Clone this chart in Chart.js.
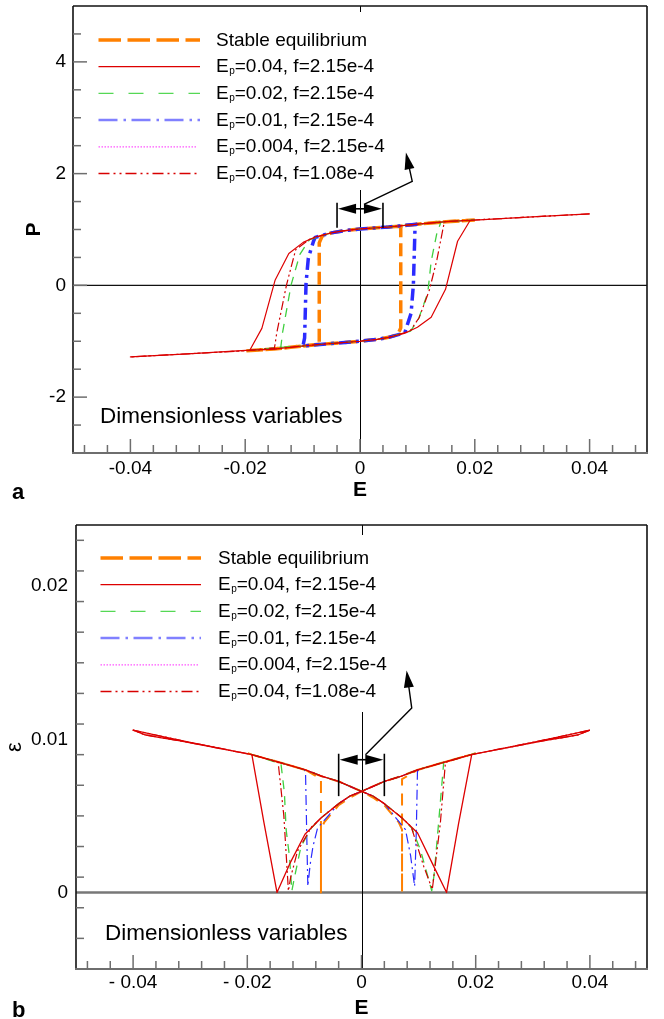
<!DOCTYPE html>
<html>
<head>
<meta charset="utf-8">
<script src="https://cdn.jsdelivr.net/npm/chart.js@4.4.0/dist/chart.umd.min.js"></script>
<style>
  html, body { margin: 0; padding: 0; background: #fff; }
  canvas { display: block; }
</style>
</head>
<body>
<canvas id="chartP" width="664" height="512"></canvas>
<canvas id="chartS" width="664" height="507"></canvas>
<script>
// ---- panel a : polarization P against field E (one closed cycle per run) ----
const eqE_a = [0.02, 0.015, 0.01, 0.007, 0.005, 0, -0.003, -0.005, -0.0066, -0.0071, -0.0071, -0.01, -0.015, -0.02, -0.015, -0.01, -0.0071, -0.005, 0, 0.003, 0.005, 0.0066, 0.0071, 0.0071, 0.01, 0.015, 0.02];
const eqP   = [1.17, 1.14, 1.095, 1.06, 1.045, 1.01, 0.975, 0.94, 0.88, 0.76, -1.06, -1.085, -1.14, -1.17, -1.14, -1.085, -1.055, -1.04, -1.0, -0.965, -0.93, -0.88, -0.76, 1.06, 1.095, 1.14, 1.17];

const r1E_a = [0.04, 0.03, 0.02, 0.015, 0.01, 0.005, 0, -0.003, -0.005, -0.0077, -0.0099, -0.0124, -0.0148, -0.0171, -0.0192, -0.03, -0.04, -0.03, -0.0192, -0.015, -0.01, -0.005, 0, 0.003, 0.005, 0.0077, 0.0100, 0.0124, 0.0149, 0.0170, 0.0192, 0.03, 0.04];
const r1P   = [1.28, 1.225, 1.17, 1.14, 1.095, 1.045, 1.01, 0.975, 0.94, 0.87, 0.77, 0.57, 0.09, -0.77, -1.16, -1.225, -1.28, -1.225, -1.16, -1.14, -1.085, -1.04, -1.0, -0.965, -0.93, -0.86, -0.75, -0.57, -0.07, 0.79, 1.165, 1.225, 1.28];

const g2E_a = [0.02, 0.015, 0.01, 0.005, 0, -0.003, -0.005, -0.0088, -0.0105, -0.0120, -0.0135, -0.0138, -0.02, -0.0138, -0.01, -0.005, 0, 0.003, 0.005, 0.0088, 0.0102, 0.0118, 0.0124, 0.0134, 0.0141, 0.02];
const g2P   = [1.17, 1.14, 1.095, 1.045, 1.01, 0.975, 0.94, 0.82, 0.55, 0.01, -0.85, -1.11, -1.17, -1.11, -1.085, -1.04, -1.0, -0.965, -0.93, -0.82, -0.60, -0.14, 0.43, 0.94, 1.13, 1.17];

const b1E_a = [0.01, 0.005, 0, -0.003, -0.005, -0.0078, -0.0081, -0.0090, -0.0094, -0.00965, -0.0099, -0.01, -0.005, 0, 0.003, 0.005, 0.0078, 0.0082, 0.0089, 0.0093, 0.0096, 0.01];
const b1P   = [1.095, 1.045, 1.01, 0.975, 0.94, 0.86, 0.79, 0.49, 0.04, -0.94, -1.07, -1.085, -1.04, -1.0, -0.965, -0.93, -0.85, -0.72, -0.50, 0.01, 1.09, 1.095];

const m4E_a = [0.004, 0, -0.004, 0, 0.004];
const m4P   = [1.04, 1.01, 0.955, 1.01, 1.04];

const r2E_a = [0.04, 0.03, 0.02, 0.015, 0.01, 0.005, 0, -0.003, -0.005, -0.0087, -0.0112, -0.0128, -0.0145, -0.0149, -0.02, -0.03, -0.04, -0.03, -0.02, -0.015, -0.01, -0.005, 0, 0.003, 0.005, 0.0087, 0.0103, 0.0121, 0.0134, 0.0147, 0.02, 0.03, 0.04];
const r2P   = [1.28, 1.225, 1.17, 1.14, 1.095, 1.045, 1.01, 0.975, 0.94, 0.83, 0.64, 0.01, -0.85, -1.12, -1.17, -1.225, -1.28, -1.225, -1.17, -1.14, -1.085, -1.04, -1.0, -0.965, -0.93, -0.82, -0.58, -0.08, 0.46, 1.14, 1.17, 1.225, 1.28];

// ---- panel b : strain eps against field E, same runs ----
const eqE_b = [0.02, 0.0192, 0.0144, 0.0098, 0.007, 0.004, 0, -0.002, -0.004, -0.0065, -0.0071, -0.0071, -0.0071, -0.0098, -0.0144, -0.0192, -0.02, -0.0192, -0.0144, -0.0098, -0.0071, -0.004, 0, 0.002, 0.004, 0.0065, 0.0071, 0.0071, 0.0071, 0.0098, 0.0144, 0.0192, 0.02];
const eqS   = [0.0091, 0.0090, 0.0085, 0.0080, 0.0076, 0.00725, 0.0066, 0.0062, 0.0057, 0.0046, 0.0041, 0.0, 0.0074, 0.0080, 0.0085, 0.0090, 0.0091, 0.0090, 0.0085, 0.0080, 0.0076, 0.00725, 0.0066, 0.0062, 0.0057, 0.0046, 0.0041, 0.0, 0.0074, 0.0080, 0.0085, 0.0090, 0.0091];

const r1E_b = [0.04, 0.038, 0.035, 0.032, 0.0192, 0.0144, 0.0098, 0.007, 0.004, 0, -0.002, -0.004, -0.007, -0.0099, -0.0124, -0.0148, -0.0171, -0.0192, -0.03, -0.035, -0.04, -0.038, -0.035, -0.032, -0.0192, -0.0144, -0.0098, -0.007, -0.004, 0, 0.002, 0.004, 0.007, 0.0098, 0.0124, 0.0149, 0.0170, 0.0193, 0.03, 0.035, 0.04];
const r1S   = [0.0106, 0.0103, 0.0101, 0.00992, 0.0090, 0.0085, 0.0080, 0.0076, 0.00725, 0.0066, 0.0063, 0.0058, 0.0049, 0.0038, 0.0020, 0.0, 0.0046, 0.0090, 0.0098, 0.0102, 0.0106, 0.0103, 0.0101, 0.00992, 0.0090, 0.0085, 0.0080, 0.0076, 0.00725, 0.0066, 0.0063, 0.0058, 0.0049, 0.0039, 0.0019, 0.0, 0.0045, 0.0090, 0.0098, 0.0102, 0.0106];

const g2E_b = [0.02, 0.0192, 0.0144, 0.0098, 0.007, 0.004, 0, -0.002, -0.004, -0.007, -0.0088, -0.0106, -0.0117, -0.0122, -0.0126, -0.0132, -0.0135, -0.0141, -0.0192, -0.02, -0.0192, -0.0144, -0.0098, -0.007, -0.004, 0, 0.002, 0.004, 0.007, 0.0088, 0.0103, 0.0118, 0.0123, 0.0127, 0.0134, 0.0144, 0.0192, 0.02];
const g2S   = [0.0091, 0.0090, 0.0085, 0.0080, 0.0076, 0.00725, 0.0066, 0.0063, 0.0058, 0.0049, 0.0042, 0.0030, 0.00105, 0.0001, 0.0023, 0.0041, 0.0065, 0.0084, 0.0090, 0.0091, 0.0090, 0.0085, 0.0080, 0.0076, 0.00725, 0.0066, 0.0063, 0.0058, 0.0049, 0.0042, 0.0028, 0.0008, 0.0001, 0.0011, 0.0041, 0.0085, 0.0090, 0.0091];

const b1E_b = [0.01, 0.0098, 0.007, 0.004, 0, -0.002, -0.004, -0.0077, -0.0085, -0.0090, -0.0094, -0.0096, -0.0098, -0.01, -0.0098, -0.007, -0.004, 0, 0.002, 0.004, 0.0077, 0.0086, 0.0093, 0.0096, 0.0098, 0.01];
const b1S   = [0.0080, 0.0080, 0.0076, 0.00725, 0.0066, 0.0063, 0.0058, 0.0042, 0.0030, 0.0018, 0.0004, 0.0040, 0.0078, 0.0080, 0.0080, 0.0076, 0.00725, 0.0066, 0.0063, 0.0058, 0.0041, 0.0024, 0.0004, 0.0040, 0.0079, 0.0080];

const m4E_b = [0.004, 0, -0.002, -0.004, -0.002, 0, 0.004];
const m4S   = [0.00725, 0.0066, 0.0063, 0.0058, 0.0063, 0.0066, 0.00725];

const r2E_b = [0.04, 0.038, 0.035, 0.032, 0.0192, 0.0144, 0.0098, 0.007, 0.004, 0, -0.002, -0.004, -0.007, -0.0087, -0.0112, -0.0124, -0.0128, -0.0136, -0.0146, -0.0192, -0.03, -0.035, -0.04, -0.038, -0.035, -0.032, -0.0192, -0.0144, -0.0098, -0.007, -0.004, 0, 0.002, 0.004, 0.007, 0.0087, 0.0109, 0.0124, 0.0138, 0.0147, 0.0192, 0.03, 0.035, 0.04];
const r2S   = [0.0106, 0.0103, 0.0101, 0.00992, 0.0090, 0.0085, 0.0080, 0.0076, 0.00725, 0.0066, 0.0063, 0.0058, 0.0049, 0.0043, 0.0027, 0.0010, 0.0001, 0.0050, 0.0085, 0.0090, 0.0098, 0.0102, 0.0106, 0.0103, 0.0101, 0.00992, 0.0090, 0.0085, 0.0080, 0.0076, 0.00725, 0.0066, 0.0063, 0.0058, 0.0049, 0.0043, 0.0017, 0.0002, 0.0045, 0.0085, 0.0090, 0.0098, 0.0102, 0.0106];

const seriesLabels = ['Stable equilibrium', 'E_p=0.04, f=2.15e-4', 'E_p=0.02, f=2.15e-4',
                      'E_p=0.01, f=2.15e-4', 'E_p=0.004, f=2.15e-4', 'E_p=0.04, f=1.08e-4'];

const xTicks   = [-0.04, -0.02, 0, 0.02, 0.04];
const xLabelsA = ['-0.04', '-0.02', '0', '0.02', '0.04'];
const xLabelsB = ['- 0.04', '- 0.02', '0', '0.02', '0.04'];
const yTicksA  = [-2, 0, 2, 4];
const yLabelsA = ['-2', '0', '2', '4'];
const yTicksB  = [0, 0.01, 0.02];
const yLabelsB = ['0', '0.01', '0.02'];

// ---- styles ----
const FONT = "'Liberation Sans', Arial, Helvetica, sans-serif";
const colors = ['#ff8000', '#dd0000', '#3fcf3f', '#2b2bff', '#ff40ff', '#d00000'];
const drawOrder = [5, 0, 2, 3, 4, 1];
const stylesA = [
  {width: 3.5, dash: [13, 6]},
  {width: 1.2, dash: []},
  {width: 1.3, dash: [9, 7]},
  {width: 3.5, dash: [12, 5, 3, 5]},
  {width: 1.2, dash: [1.5, 2]},
  {width: 1.2, dash: [9, 3, 2, 3, 2, 3]}
];
const stylesB = [
  {width: 2, dash: [12, 8]},
  {width: 1.3, dash: []},
  {width: 1.3, dash: [9, 7]},
  {width: 1.2, dash: [10, 4, 2, 4]},
  {width: 1.2, dash: [1.5, 2]},
  {width: 1.2, dash: [9, 3, 2, 3, 2, 3]}
];
const legendStyles = [
  {color: '#ff8000', width: 3.5, dash: [22.5, 6.5]},
  {color: '#dd0000', width: 1.2, dash: []},
  {color: '#55d855', width: 1.4, dash: [15, 15]},
  {color: '#8080ff', width: 2.5, dash: [19, 6, 2.5, 5.5]},
  {color: '#ff55ff', width: 1.2, dash: [1.5, 1.5]},
  {color: '#d80000', width: 1.4, dash: [11, 4, 2, 4, 2, 4]}
];

function seg(ctx, x1, y1, x2, y2) {
  ctx.beginPath(); ctx.moveTo(x1, y1); ctx.lineTo(x2, y2); ctx.stroke();
}

function head(ctx, tx, ty, fx, fy, len, half) {
  // filled arrow head with its tip at (tx,ty), pointing away from (fx,fy)
  const a = Math.atan2(ty - fy, tx - fx);
  const bx = tx - len * Math.cos(a), by = ty - len * Math.sin(a);
  ctx.beginPath();
  ctx.moveTo(tx, ty);
  ctx.lineTo(bx + half * Math.sin(a), by - half * Math.cos(a));
  ctx.lineTo(bx - half * Math.sin(a), by + half * Math.cos(a));
  ctx.closePath(); ctx.fill();
}

// legend text; "E_p" puts a small p right after the E, on the baseline
function drawLabel(ctx, text, x, y) {
  const base = y + 5.5;
  ctx.fillStyle = '#000';
  ctx.textBaseline = 'alphabetic';
  ctx.textAlign = 'left';
  ctx.font = '19px ' + FONT;
  const k = text.indexOf('_');
  if (k < 0) { ctx.fillText(text, x, base); return; }
  const lead = text.slice(0, k), sub = text[k + 1], rest = text.slice(k + 2);
  ctx.fillText(lead, x, base);
  const w = ctx.measureText(lead).width;
  ctx.font = '10px ' + FONT;
  ctx.fillText(sub, x + w + 0.5, base + 2);
  const ws = ctx.measureText(sub).width;
  ctx.font = '19px ' + FONT;
  ctx.fillText(rest, x + w + ws + 0.5, base);
}

function panelPlugin(p) {
  return {
    id: 'panel',
    beforeDatasetsDraw(chart) {
      const {ctx, chartArea: a, scales: {x, y}} = chart;
      ctx.save();
      ctx.strokeStyle = p.zeroColor; ctx.lineWidth = p.zeroWidth;
      const y0 = y.getPixelForValue(0);
      seg(ctx, a.left, y0, a.right, y0);
      ctx.strokeStyle = '#000'; ctx.lineWidth = 1;
      const x0 = Math.round(x.getPixelForValue(0)) + 0.5;
      seg(ctx, x0, a.top, x0, a.bottom);
      ctx.restore();
    },
    afterDraw(chart) {
      const {ctx, chartArea: a, scales: {x, y}} = chart;
      ctx.save();

      // legend box
      ctx.fillStyle = '#fff';
      ctx.fillRect(p.box[0], p.box[1], p.box[2], p.box[3]);
      chart.data.datasets.forEach((ds, i) => {
        const ry = p.legendTop + i * p.legendStep;
        const st = legendStyles[i];
        ctx.strokeStyle = st.color; ctx.lineWidth = st.width; ctx.setLineDash(st.dash);
        seg(ctx, p.sample[0], ry, i === 4 ? p.sample[1] - 3 : p.sample[1], ry);
        ctx.setLineDash([]);
        drawLabel(ctx, ds.label, p.textX, ry);
      });

      // double arrow between E = -0.004 and 0.004, with a leader to the legend
      const an = p.arrow;
      const xl = x.getPixelForValue(-an.half), xr = x.getPixelForValue(an.half);
      const yLo = y.getPixelForValue(an.bar[0]), yHi = y.getPixelForValue(an.bar[1]);
      const ya = y.getPixelForValue(an.shaft);
      ctx.strokeStyle = '#000'; ctx.fillStyle = '#000'; ctx.lineWidth = 1.6;
      seg(ctx, xl, yLo, xl, yHi);
      seg(ctx, xr, yLo, xr, yHi);
      seg(ctx, xl + 10, ya, xr - 10, ya);
      head(ctx, xl + 1, ya, xr, ya, 18, 5);
      head(ctx, xr - 1, ya, xl, ya, 18, 5);
      const pts = an.leader.map(([e, v]) => [x.getPixelForValue(e), y.getPixelForValue(v)]);
      ctx.lineWidth = 1.4;
      ctx.beginPath();
      ctx.moveTo(pts[0][0], pts[0][1]);
      ctx.lineTo(pts[1][0], pts[1][1]);
      const t = pts[2], f = pts[1];
      const ang = Math.atan2(t[1] - f[1], t[0] - f[0]);
      ctx.lineTo(t[0] - 12 * Math.cos(ang), t[1] - 12 * Math.sin(ang));
      ctx.stroke();
      head(ctx, t[0], t[1], f[0], f[1], 17, 5);

      // frame
      ctx.strokeStyle = '#111'; ctx.lineWidth = 1.6;
      seg(ctx, a.left, a.top, a.right, a.top);
      seg(ctx, a.right, a.top, a.right, a.bottom);
      seg(ctx, a.left, a.top, a.left, a.bottom);
      ctx.strokeStyle = '#6e6e6e'; ctx.lineWidth = 2.2;
      seg(ctx, a.left - 1, a.bottom, a.right + 1, a.bottom);

      // inward tick marks
      ctx.strokeStyle = '#6e6e6e'; ctx.lineWidth = 1.5;
      for (let k = -12; k <= 12; k++) {
        const v = k * p.xMinor;
        const px = x.getPixelForValue(v);
        const major = k % 5 === 0 && Math.abs(k) <= 10;
        seg(ctx, px, a.bottom, px, a.bottom - (major ? 14 : 8));
      }
      const n = Math.round((p.yMax - p.yMin) / p.yMinor);
      for (let k = 1; k < n; k++) {
        const v = p.yMin + k * p.yMinor;
        const py = y.getPixelForValue(v);
        const major = p.yMajor.some(m => Math.abs(m - v) < p.yMinor / 10);
        seg(ctx, a.left, py, a.left + (major ? 14 : 8), py);
      }

      // captions
      ctx.fillStyle = '#000';
      ctx.textAlign = 'left';
      ctx.textBaseline = 'alphabetic';
      ctx.font = '22.5px ' + FONT;
      ctx.fillText('Dimensionless variables', p.note[0], p.note[1]);
      ctx.font = 'bold 22px ' + FONT;
      ctx.fillText(p.tag, p.tagPos[0], p.tagPos[1]);
      ctx.restore();
    }
  };
}

function makeChart(id, series, styles, p) {
  return new Chart(document.getElementById(id), {
    type: 'scatter',
    data: {
      datasets: series.map((s, i) => ({
        label: seriesLabels[i],
        data: s[0].map((e, k) => ({x: e, y: s[1][k]})),
        showLine: true,
        pointRadius: 0,
        borderColor: colors[i],
        borderWidth: styles[i].width,
        borderDash: styles[i].dash,
        borderCapStyle: 'butt',
        borderJoinStyle: 'round',
        fill: false,
        tension: 0,
        order: drawOrder[i]
      }))
    },
    options: {
      responsive: false,
      animation: false,
      devicePixelRatio: 1,
      events: [],
      layout: {padding: {top: p.padTop, right: p.padRight, bottom: 0, left: 0}},
      plugins: {legend: {display: false}, tooltip: {enabled: false}},
      scales: {
        x: {
          type: 'linear', min: -0.05, max: 0.05,
          afterBuildTicks: s => { s.ticks = xTicks.map(v => ({value: v})); },
          afterFit: s => { s.height = p.xHeight; s.paddingLeft = 0; s.paddingRight = 0; },
          grid: {display: false, drawTicks: false},
          border: {display: false},
          ticks: {
            callback: (v, i) => p.xLabels[i],
            font: {family: FONT, size: 19}, color: '#000',
            padding: p.xPad, maxRotation: 0, autoSkip: false
          },
          title: {
            display: true, text: 'E', color: '#000',
            font: {family: FONT, size: 21, weight: 'bold', lineHeight: 1},
            padding: {top: 0, bottom: p.xTitlePad}
          }
        },
        y: {
          type: 'linear', min: p.yMin, max: p.yMax,
          afterBuildTicks: s => { s.ticks = p.yTicks.map(v => ({value: v})); },
          // fixed width, and no extra room reserved for the end labels
          afterFit: s => { s.width = p.yWidth; s.paddingTop = 0; s.paddingBottom = 0; },
          grid: {display: false, drawTicks: false},
          border: {display: false},
          ticks: {
            callback: (v, i) => p.yLabels[i],
            font: {family: FONT, size: 19}, color: '#000',
            padding: p.yPad, autoSkip: false
          },
          title: {
            display: true, text: p.yTitle, color: '#000',
            font: p.yTitleFont,
            padding: {top: p.yTitlePad, bottom: 0}
          }
        }
      }
    },
    plugins: [panelPlugin(p)]
  });
}

makeChart('chartP',
  [[eqE_a, eqP], [r1E_a, r1P], [g2E_a, g2P], [b1E_a, b1P], [m4E_a, m4P], [r2E_a, r2P]],
  stylesA,
  {
    padTop: 6, padRight: 17, xHeight: 59, yWidth: 73,
    xLabels: xLabelsA, xPad: 4, xTitlePad: 11,
    yMin: -3, yMax: 5, yTicks: yTicksA, yLabels: yLabelsA, yPad: 7,
    yTitle: 'P', yTitleFont: {family: FONT, size: 21, weight: 'bold', lineHeight: 1}, yTitlePad: 24,
    yMinor: 0.5, yMajor: yTicksA, xMinor: 0.004,
    zeroColor: '#111', zeroWidth: 1.4,
    box: [91, 12, 310, 178], legendTop: 40, legendStep: 26.7, sample: [98.5, 200], textX: 216,
    arrow: {half: 0.004, bar: [1.03, 1.48], shaft: 1.37, leader: [[0.0007, 1.45], [0.0091, 1.86], [0.0080, 2.38]]},
    note: [100, 423], tag: 'a', tagPos: [12, 499]
  });

makeChart('chartS',
  [[eqE_b, eqS], [r1E_b, r1S], [g2E_b, g2S], [b1E_b, b1S], [m4E_b, m4S], [r2E_b, r2S]],
  stylesB,
  {
    padTop: 13, padRight: 17, xHeight: 50, yWidth: 76,
    xLabels: xLabelsB, xPad: 2.5, xTitlePad: 0,
    yMin: -0.005, yMax: 0.024, yTicks: yTicksB, yLabels: yLabelsB, yPad: 8,
    yTitle: 'ε', yTitleFont: {family: FONT, size: 22, lineHeight: 1}, yTitlePad: 4,
    yMinor: 0.002, yMajor: yTicksB, xMinor: 0.004,
    zeroColor: '#777', zeroWidth: 2.6,
    box: [91, 23, 310, 177], legendTop: 46, legendStep: 26.7, sample: [100.5, 201], textX: 218,
    arrow: {half: 0.004, bar: [0.00629, 0.00906], shaft: 0.00867, leader: [[0.0007, 0.0090], [0.0088, 0.01204], [0.0079, 0.01449]]},
    note: [105, 428], tag: 'b', tagPos: [12, 505]
  });
</script>
</body>
</html>
